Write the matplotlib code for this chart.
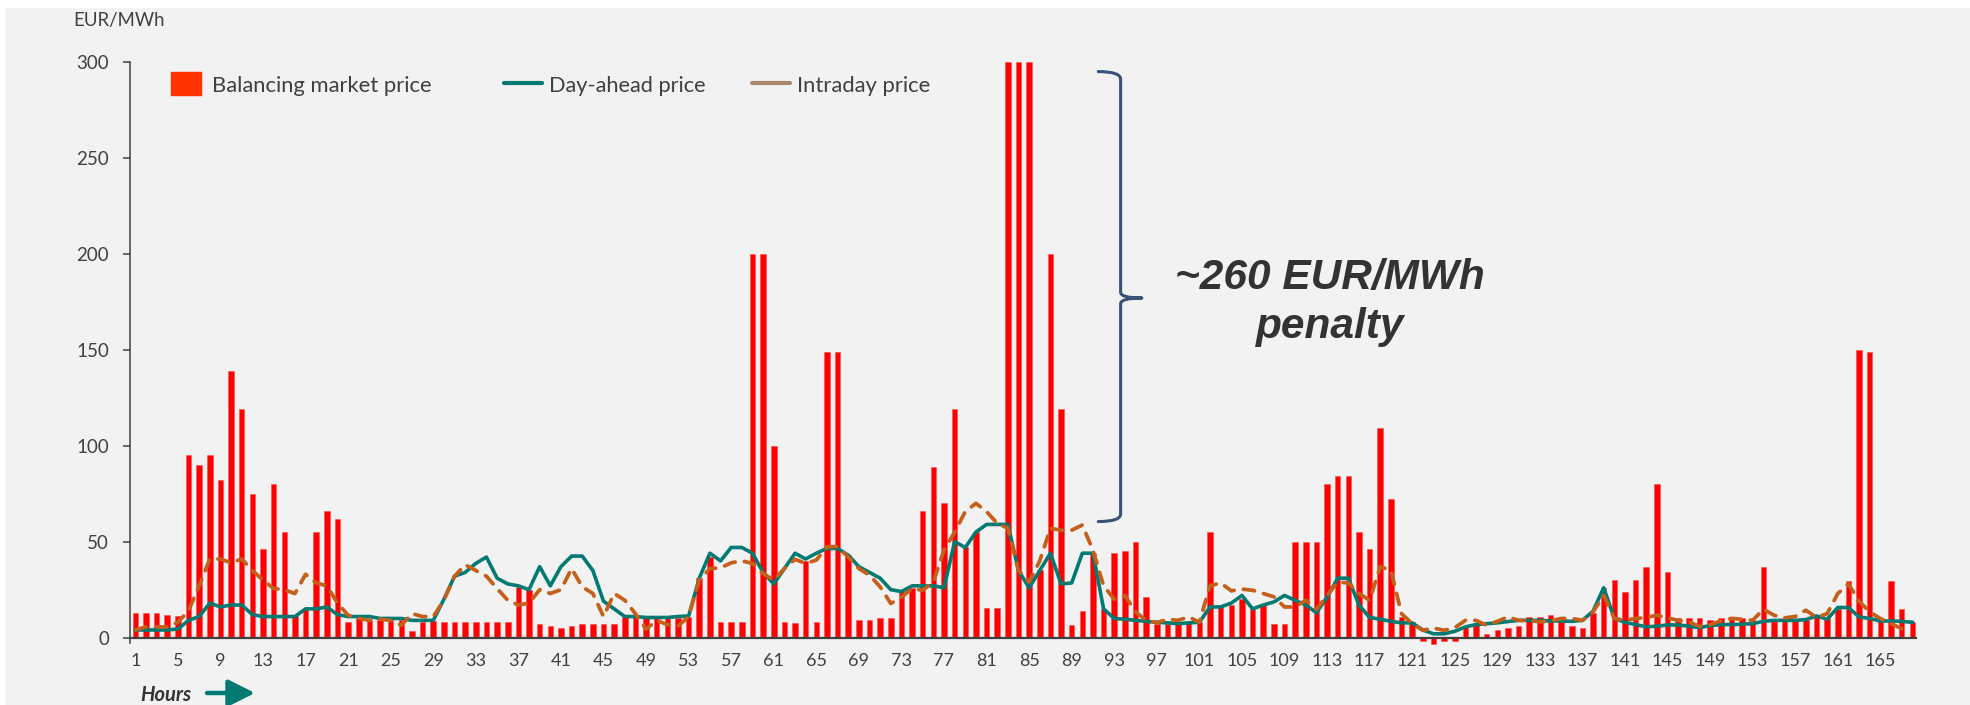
import matplotlib
matplotlib.use('Agg')
import matplotlib.pyplot as plt
import numpy as np
from matplotlib.patches import Rectangle, PathPatch
from matplotlib.path import Path
from matplotlib.lines import Line2D

plt.rcParams['font.family'] = ['Lato', 'DejaVu Sans']

# ---------------- data ----------------
hours = list(range(1, 169))
tick_hours = list(range(1, 168, 4))

balancing = [
    13, 13, 13, 12, 11.5, 95, 90, 95, 82, 139,
    119, 75, 46, 80, 55, 12, 15, 55, 66, 62,
    8, 10, 9, 9, 9, 9, 3.5, 8, 8.5, 8,
    8, 8, 8, 8, 8, 8, 26.5, 25, 7, 6,
    5, 6, 7, 7, 7, 7, 11, 11, 10, 10,
    10, 10, 11, 31, 42, 8, 8, 8, 200, 200,
    100, 8, 7.5, 40, 8, 149, 149, 43, 9, 9,
    10, 10, 25, 26, 66, 89, 70, 119, 47, 55,
    15.5, 15.5, 300, 300, 300, 35, 200, 119, 6.5, 14,
    44, 15, 44, 45, 50, 21, 7, 7, 7, 8,
    8, 55, 16, 17, 20, 15, 17, 7, 7, 50,
    50, 50, 80, 84, 84, 55, 46, 109, 72.5, 11,
    8, -2, -3.5, -2, -2, 5.5, 6.5, 2, 4, 5,
    6, 11, 11, 12, 11, 6, 5, 13, 26, 30,
    24, 30, 37, 80, 34, 10, 10, 10, 9, 10,
    9.5, 10, 9, 37, 9, 9, 9, 9, 11, 11,
    15, 29.5, 150, 149, 9, 29.5, 15, 8,
]

day_ahead = [
    4, 4, 4, 4, 4.5, 9, 11, 18, 16, 17,
    17, 12, 11, 11, 11, 11, 15, 15, 16, 12,
    11, 11, 11, 10, 10, 10, 9, 9, 9, 20,
    32, 34, 38.7, 42, 31, 28, 27, 25, 37, 27,
    37, 42.5, 42.5, 35, 19, 15, 11, 11, 10.5, 10.5,
    10.5, 11, 11.3, 31, 44, 40, 47, 47, 44, 34,
    28, 36, 44, 41, 44, 46.5, 46.5, 43, 37, 34,
    31, 25, 24, 27, 27, 27, 26, 50, 47, 55,
    59, 59, 59, 35, 26, 35, 44, 28, 28.5, 44,
    44, 15, 10, 9.6, 9, 8.5, 8, 7.7, 7.3, 7.7,
    8, 16, 16, 18, 22, 15, 17, 18.6, 22, 19.5,
    17, 13, 21, 31, 31, 17, 10.5, 9.6, 8.5, 7.7,
    7.7, 4, 2, 2, 3.3, 5.6, 6.8, 7.3, 7.7, 8.4,
    9, 9, 9, 8.7, 8.7, 8.5, 9, 13.8, 26, 10,
    8, 6.8, 5.6, 6, 6.6, 6.6, 6, 5.2, 6.3, 6.8,
    6.8, 7, 7.3, 8.5, 9, 9, 9, 9.4, 11.3, 9.6,
    15.7, 15.7, 10.8, 10, 8.7, 8.7, 8.5, 8,
]

intraday = [
    4, 5.6, 5.6, 5.6, 8, 14, 27, 41, 41, 39,
    41, 35, 30, 25.6, 25, 23, 33, 28.5, 27, 18,
    11.7, 10, 9, 9.6, 9, 6.5, 12.5, 11, 11, 19.5,
    32, 38, 35, 32, 25.6, 19.5, 17, 18, 25, 23,
    25, 36, 26.5, 23, 11, 23, 19.5, 12.5, 4.4, 9,
    6.8, 6, 11, 30, 36, 36.4, 39, 40, 38.7, 33.4,
    30, 36, 40.8, 38.7, 40.4, 47.4, 47.4, 42, 36, 32.6,
    26.5, 17.8, 21, 25.6, 24.7, 29, 45.6, 55, 65.7, 70,
    65.7, 59.6, 57, 35, 29, 40, 57, 56, 56, 58.7,
    45.6, 27, 20, 22, 13.4, 9, 7.8, 9.6, 9, 10.8,
    8, 27, 28.5, 24.4, 25.3, 24.7, 23, 21.3, 16, 16,
    19.5, 14.6, 22, 29, 28.5, 23, 19.5, 37, 35, 12.5,
    7.3, 3.8, 5, 3.8, 5.2, 9, 9, 6.4, 8.5, 10.8,
    9, 9, 8.2, 8.7, 10, 10, 9, 13.4, 22, 10,
    9, 10, 10.5, 11.7, 10.3, 9, 8.2, 5.9, 6.8, 8.7,
    10, 9.6, 9, 14.8, 11.7, 10.3, 11, 14.3, 10.5, 12.5,
    23, 28, 19, 13.4, 10, 7.3, 4.7, np.nan,
]

y_ticks = [0, 50, 100, 150, 200, 250, 300]
legend_labels = ['Balancing market price', 'Day-ahead price', 'Intraday price']
unit_label = 'EUR/MWh'
annot_lines = ['~260 EUR/MWh', 'penalty']
x_title = 'Hours'

# ---------------- style ----------------
W, H = 1970, 705
RED = '#FF0000'
LEG_RED = '#FF3300'
TEAL = '#007A72'
ORANGE = '#C55F1A'
TAN = '#A8896F'
GREY = '#404040'
BG = '#F2F2F2'

fig = plt.figure(figsize=(W / 100, H / 100), dpi=100, facecolor=BG)
fig.patches.append(Rectangle((0, 1 - 7 / H), 1, 7 / H, transform=fig.transFigure,
                             color='white', zorder=-5))
fig.patches.append(Rectangle((0, 0), 4 / W, 1, transform=fig.transFigure,
                             color='white', zorder=-5))


def fx(px):
    return px / W


def fy(py):
    return 1 - py / H


ax = fig.add_axes([fx(130), fy(653), (1916 - 130) / W, (653 - 62) / H])
ax.set_facecolor('none')

ax.bar(hours, balancing, width=0.52, color=RED, edgecolor='#FF5050',
       linewidth=0.4, zorder=2)
ax.plot(hours, day_ahead, color=TEAL, lw=2.6, zorder=3, solid_joinstyle='round')
ax.plot(hours, intraday, color=ORANGE, lw=2.7, zorder=4,
        dashes=(3.0, 2.5), dash_capstyle='round')

ax.set_xlim(0.5, 168.35)
ax.set_ylim(-8, 300)
ax.set_yticks(y_ticks)
ax.set_xticks(tick_hours)
ax.set_xticklabels([str(h) for h in tick_hours], rotation=90)

for s in ['top', 'right']:
    ax.spines[s].set_visible(False)
ax.spines['bottom'].set_position(('data', 0))
ax.spines['bottom'].set_color(GREY)
ax.spines['bottom'].set_linewidth(1.6)
ax.spines['bottom'].set_zorder(5)
ax.spines['left'].set_color(GREY)
ax.spines['left'].set_linewidth(1.1)
ax.spines['left'].set_bounds(-3, 300)

ax.tick_params(axis='y', direction='out', length=5, width=1.1, color=GREY,
               labelcolor=GREY, labelsize=13.5, pad=10)
ax.tick_params(axis='x', length=0, labelcolor=GREY, labelsize=13, pad=11)

renderer = fig.canvas.get_renderer()


def fit(t, target_w):
    w = t.get_window_extent(renderer).width
    t.set_fontsize(t.get_fontsize() * target_w / w)
    return t


t = fig.text(fx(73), fy(26), unit_label, color=GREY, fontsize=13, va='baseline', ha='left')
fit(t, 91)

# legend (manual, matching the Excel layout)
fig.patches.append(Rectangle((fx(171), fy(95)), 30 / W, 23 / H, transform=fig.transFigure,
                             color=LEG_RED))
fig.lines.append(Line2D([fx(504), fx(542)], [fy(83), fy(83)], transform=fig.transFigure,
                        color=TEAL, lw=3, solid_capstyle='round'))
fig.lines.append(Line2D([fx(752), fx(790)], [fy(83), fy(83)], transform=fig.transFigure,
                        color=TAN, lw=3, solid_capstyle='round'))
leg_x = [212, 549, 797]
leg_w = [221, 158, 134]
for lbl, x0, w in zip(legend_labels, leg_x, leg_w):
    t = fig.text(fx(x0), fy(91.5), lbl, color=GREY, fontsize=14, va='baseline', ha='left')
    fit(t, w)

# annotation text
t1 = fig.text(fx(1330), fy(289), annot_lines[0], family=['Liberation Sans', 'DejaVu Sans'],
              weight='bold', style='italic', color='#333333', fontsize=22,
              ha='center', va='baseline')
fit(t1, 309)
fig.text(fx(1330), fy(338), annot_lines[1], family=['Liberation Sans', 'DejaVu Sans'],
         weight='bold', style='italic', color='#333333', fontsize=t1.get_fontsize(),
         ha='center', va='baseline')

# curly brace spanning the penalty range
bx, bx0, bxt = 93.6, 91.5, 95.6
btop, bbot, bmid = 295, 60.5, 177
verts = [
    (bx0, btop), (bx, btop), (bx, btop - 4),
    (bx, bmid + 3),
    (bx, bmid), (bxt, bmid),
    (bx, bmid), (bx, bmid - 3),
    (bx, bbot + 4),
    (bx, bbot), (bx0, bbot),
]
codes = [Path.MOVETO, Path.CURVE3, Path.CURVE3, Path.LINETO,
         Path.CURVE3, Path.CURVE3, Path.CURVE3, Path.CURVE3,
         Path.LINETO, Path.CURVE3, Path.CURVE3]
ax.add_patch(PathPatch(Path(verts, codes), fill=False, edgecolor='#3A5275', lw=2.2,
                       zorder=6, clip_on=False, capstyle='round', joinstyle='round'))

# "Hours" label and arrow
th = fig.text(fx(140), fy(701), x_title, color='#333333', fontsize=13, weight='bold',
              style='italic', va='baseline', ha='left')
fit(th, 51)
ax.annotate('', xy=(255, H - 693), xytext=(207, H - 693), xycoords='figure pixels',
            textcoords='figure pixels',
            arrowprops=dict(arrowstyle='-|>,head_length=0.9,head_width=0.45',
                            color=TEAL, lw=3.2, shrinkA=0, shrinkB=0,
                            mutation_scale=18))

fig.savefig('out.png', dpi=100, facecolor=fig.get_facecolor())
